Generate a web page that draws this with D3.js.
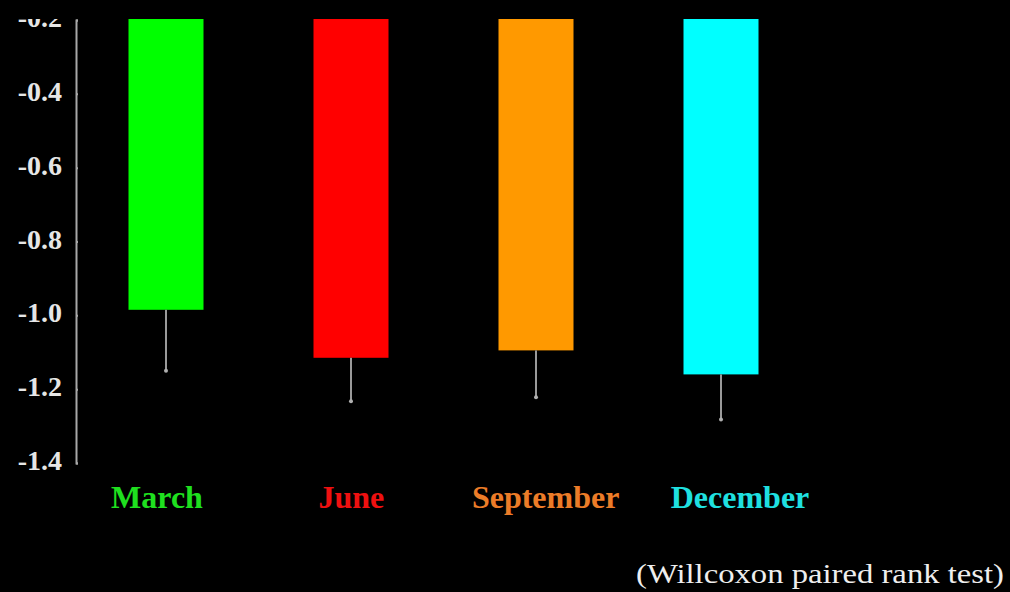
<!DOCTYPE html>
<html>
<head>
<meta charset="utf-8">
<script src="https://cdn.jsdelivr.net/npm/d3@7"></script>
<style>
  html, body { margin: 0; padding: 0; background: #000; }
  svg { display: block; }
</style>
</head>
<body>
<div id="chart"></div>
<script>
// months and the mean / lower error values
var months = ["March", "June", "September", "December"];
var means = [-0.985, -1.115, -1.095, -1.16];
var lows = [-1.15, -1.233, -1.222, -1.282];
var yTicks = [-0.2, -0.4, -0.6, -0.8, -1.0, -1.2, -1.4];

var barColors = ["#00ff00", "#ff0000", "#ff9900", "#00ffff"];
var labelColors = ["#1fe01f", "#ee1010", "#ec7c28", "#1fe0e0"];

var width = 1010, height = 592;

var svg = d3.select("#chart").append("svg")
    .attr("width", width)
    .attr("height", height);

// the original picture is cut off at the top, everything above ~y=19 is black
svg.append("clipPath").attr("id", "cut")
  .append("rect").attr("x", 0).attr("y", 19).attr("width", width).attr("height", height);

var g = svg.append("g").attr("clip-path", "url(#cut)");

var y = d3.scaleLinear().domain([-1.4, -0.2]).range([463, 20]);
var x = d3.scaleBand().domain(months).range([128.5, 758.5]).paddingInner(0.5946);
// the month names sit a bit off the bar centres in the original
var xLabel = d3.scalePoint().domain(months).range([157, 740]);

// bars hang down from the top of the axis
g.selectAll("rect.bar").data(months).enter().append("rect")
    .attr("class", "bar")
    .attr("x", function(d) { return x(d); })
    .attr("y", y(-0.2) - 1)
    .attr("width", x.bandwidth())
    .attr("height", function(d, i) { return y(means[i]) - y(-0.2) + 1; })
    .attr("fill", function(d, i) { return barColors[i]; });

// error whiskers
g.selectAll("line.err").data(months).enter().append("line")
    .attr("class", "err")
    .attr("x1", function(d) { return x(d) + x.bandwidth() / 2; })
    .attr("x2", function(d) { return x(d) + x.bandwidth() / 2; })
    .attr("y1", function(d, i) { return y(means[i]); })
    .attr("y2", function(d, i) { return y(lows[i]); })
    .attr("stroke", "#9a9a9a")
    .attr("stroke-width", 2);

g.selectAll("circle.cap").data(months).enter().append("circle")
    .attr("class", "cap")
    .attr("cx", function(d) { return x(d) + x.bandwidth() / 2; })
    .attr("cy", function(d, i) { return y(lows[i]); })
    .attr("r", 2)
    .attr("fill", "#b0b0b0");

// y axis
var axis = g.append("g")
    .attr("transform", "translate(76,0)")
    .call(d3.axisRight(y).tickValues(yTicks).tickSize(2).tickFormat(""));
axis.select(".domain").attr("stroke", "#a8a8a8").attr("stroke-width", 2);
axis.selectAll(".tick line").attr("stroke", "#a8a8a8").attr("stroke-width", 2);

g.selectAll("text.ytick").data(yTicks).enter().append("text")
    .attr("class", "ytick")
    .attr("x", 62)
    .attr("y", function(d) { return y(d) + 7; })
    .attr("text-anchor", "end")
    .attr("font-family", "Liberation Serif, Times New Roman, serif")
    .attr("font-weight", "bold")
    .attr("font-size", 28)
    .attr("fill", "#e6e6e6")
    .text(function(d) { return d.toFixed(1); });

// month labels under the bars
g.selectAll("text.month").data(months).enter().append("text")
    .attr("class", "month")
    .attr("x", function(d) { return xLabel(d); })
    .attr("y", 508)
    .attr("text-anchor", "middle")
    .attr("font-family", "Liberation Serif, Times New Roman, serif")
    .attr("font-weight", "bold")
    .attr("font-size", 32)
    .attr("fill", function(d, i) { return labelColors[i]; })
    .text(function(d) { return d; });

svg.append("text")
    .attr("x", 636)
    .attr("y", 583)
    .attr("font-family", "Liberation Serif, Times New Roman, serif")
    .attr("font-size", 28)
    .attr("fill", "#eeeeee")
    .attr("textLength", 368)
    .attr("lengthAdjust", "spacingAndGlyphs")
    .text("(Willcoxon paired rank test)");
</script>
</body>
</html>
